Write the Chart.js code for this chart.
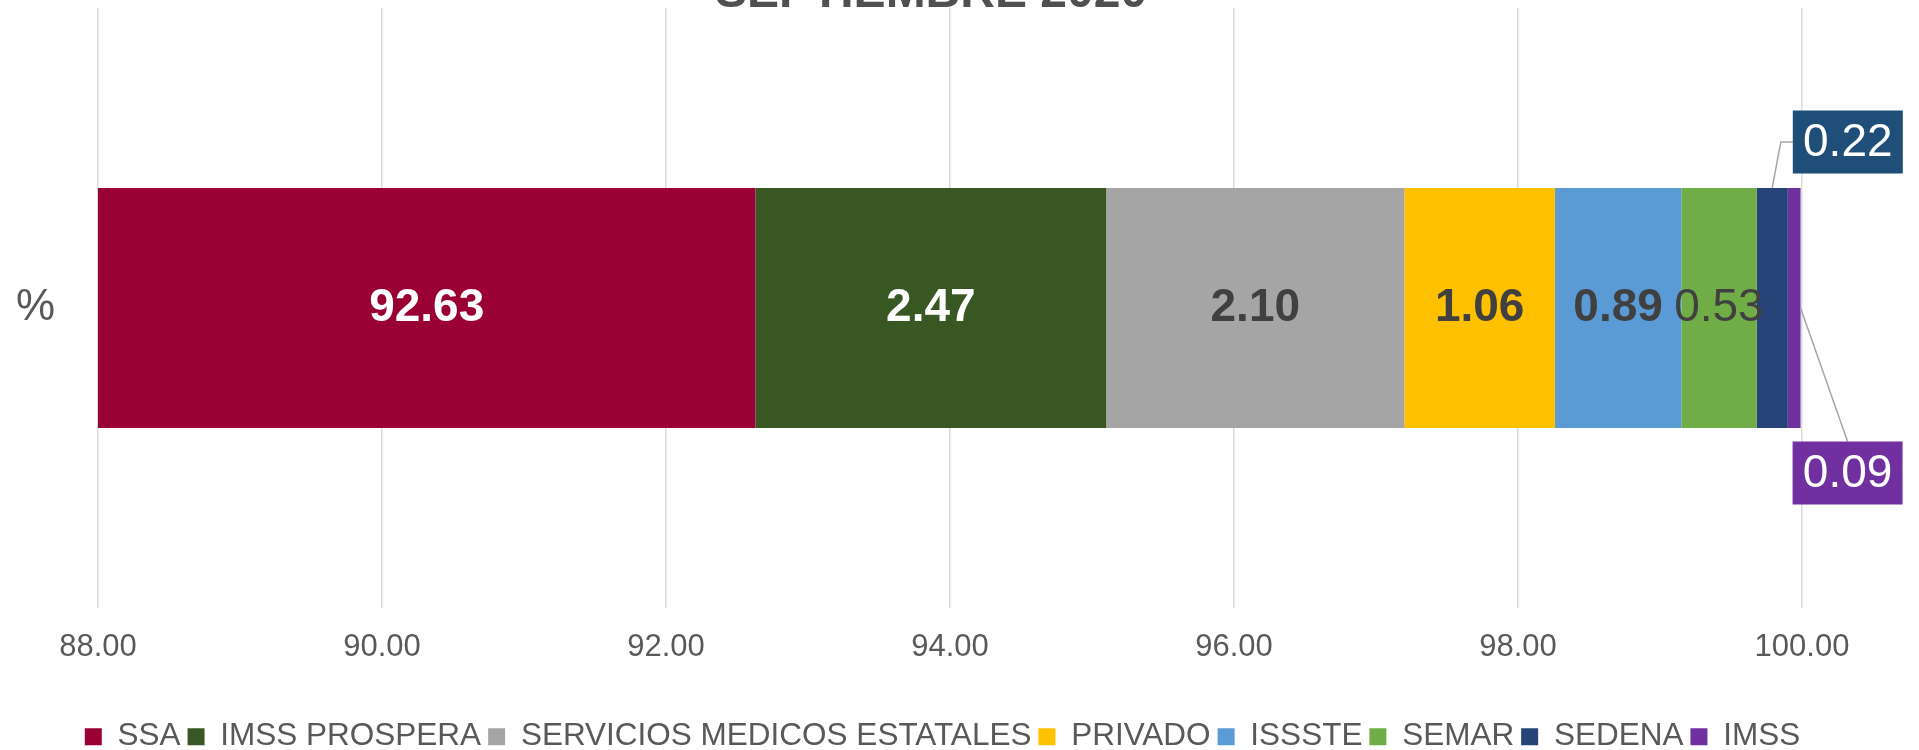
<!DOCTYPE html>
<html>
<head>
<meta charset="utf-8">
<script src="https://cdn.jsdelivr.net/npm/chart.js@4.4.0/dist/chart.umd.min.js"></script>
<style>
    html, body { margin: 0; padding: 0; background: #ffffff; }
    #wrap { width: 1919px; height: 750px; }
</style>
</head>
<body>
<div id="wrap"><canvas id="myChart" width="1919" height="750"></canvas></div>
<script>
var categories = ['%'];
var seriesNames = ['SSA', 'IMSS PROSPERA', 'SERVICIOS MEDICOS ESTATALES', 'PRIVADO', 'ISSSTE', 'SEMAR', 'SEDENA', 'IMSS'];
var seriesValues = [92.63, 2.47, 2.10, 1.06, 0.89, 0.53, 0.22, 0.09];
var tickValues = [88, 90, 92, 94, 96, 98, 100];
var titleText = 'SEPTIEMBRE 2020';

var FONT = 'Arial, "Liberation Sans", sans-serif';
var seriesColors = ['#990033', '#385723', '#A5A5A5', '#FFC000', '#5B9BD5', '#70AD47', '#264478', '#7030A0'];

// how each value label is drawn: inside its segment, or in a callout box
var labelStyles = [
    {font: 'bold 46px ' + FONT, color: '#ffffff'},
    {font: 'bold 46px ' + FONT, color: '#ffffff'},
    {font: 'bold 46px ' + FONT, color: '#404040'},
    {font: 'bold 46px ' + FONT, color: '#404040'},
    {font: 'bold 46px ' + FONT, color: '#404040'},
    {font: '46px ' + FONT, color: '#404040'},
    {font: '46px ' + FONT, color: '#ffffff', box: '#1F4E79', side: 'up', dx: 60, dy: -166},
    {font: '46px ' + FONT, color: '#ffffff', box: '#7030A0', side: 'down', dx: 47, dy: 165}
];

/**
 * Draws the value of every segment, with callouts for the thin ones
 */
var valueLabels = {
    id: 'valueLabels',
    afterDatasetsDraw: function (chart) {
        var ctx = chart.ctx;
        var area = chart.chartArea;
        ctx.save();
        chart.data.datasets.forEach(function (ds, i) {
            var el = chart.getDatasetMeta(i).data[0];
            var p = el.getProps(['x', 'y', 'base', 'height'], true);
            var left = Math.max(Math.min(p.base, p.x), area.left);
            var right = Math.max(p.base, p.x);
            var st = labelStyles[i];
            var text = seriesValues[i].toFixed(2);
            ctx.font = st.font;
            ctx.textAlign = 'center';
            ctx.textBaseline = 'middle';
            if (!st.box) {
                ctx.fillStyle = st.color;
                ctx.fillText(text, (left + right) / 2, p.y);
                return;
            }
            var w = 110, h = 63;
            var cx = right + st.dx, cy = p.y + st.dy;
            // leader line
            ctx.strokeStyle = '#A6A6A6';
            ctx.lineWidth = 1.5;
            ctx.beginPath();
            if (st.side === 'up') {
                ctx.moveTo(cx - w / 2, cy);
                ctx.lineTo(cx - w / 2 - 12, cy);
                ctx.lineTo((left + right) / 2, p.y - p.height / 2);
            } else {
                ctx.moveTo(right, p.y);
                ctx.lineTo(cx, cy - h / 2);
            }
            ctx.stroke();
            ctx.fillStyle = st.box;
            ctx.fillRect(cx - w / 2, cy - h / 2, w, h);
            ctx.fillStyle = st.color;
            ctx.fillText(text, cx, cy + 1);
        });
        ctx.restore();
    }
};

// title of the slide, cut by the top edge
var cutTitle = {
    id: 'cutTitle',
    afterDraw: function (chart) {
        var ctx = chart.ctx;
        ctx.save();
        ctx.font = 'bold 48px ' + FONT;
        ctx.fillStyle = '#505050';
        ctx.textAlign = 'center';
        ctx.textBaseline = 'alphabetic';
        ctx.fillText(titleText, 931, 7);
        ctx.restore();
    }
};

var datasets = seriesNames.map(function (name, i) {
    return {
        label: name,
        data: [seriesValues[i]],
        backgroundColor: seriesColors[i],
        borderWidth: 0,
        barPercentage: 0.4,
        categoryPercentage: 1.0,
        clip: 0
    };
});

var ctx = document.getElementById('myChart').getContext('2d');
var myChart = new Chart(ctx, {
    type: 'bar',
    data: {labels: categories, datasets: datasets},
    options: {
        indexAxis: 'y',
        responsive: false,
        animation: false,
        devicePixelRatio: 1,
        layout: {padding: {top: 8, right: 34, bottom: 0, left: 0}},
        scales: {
            x: {
                type: 'linear',
                stacked: true,
                min: 88,
                max: 100,
                afterBuildTicks: function (scale) {
                    scale.ticks = tickValues.map(function (v) { return {value: v}; });
                },
                afterFit: function (scale) { scale.height = 106; },
                grid: {color: '#D9D9D9', lineWidth: 1.5, drawTicks: false},
                border: {display: false},
                ticks: {
                    padding: 21,
                    color: '#595959',
                    font: {family: FONT, size: 31},
                    callback: function (v) { return Number(v).toFixed(2); }
                }
            },
            y: {
                stacked: true,
                afterFit: function (scale) {
                    scale.width = 98;
                    scale.paddingTop = 0;
                    scale.paddingBottom = 0;
                },
                grid: {display: false, drawTicks: false},
                border: {display: false},
                ticks: {padding: 43, color: '#595959', font: {family: FONT, size: 44}}
            },
            yPad: {
                type: 'category',
                position: 'right',
                afterFit: function (scale) { scale.width = 83; },
                grid: {display: false, drawTicks: false},
                border: {display: false},
                ticks: {display: false}
            }
        },
        plugins: {
            legend: {
                position: 'bottom',
                maxHeight: 36,
                labels: {
                    boxWidth: 17,
                    boxHeight: 17,
                    padding: 7,
                    color: '#595959',
                    font: {family: FONT, size: 31.5}
                }
            },
            tooltip: {enabled: false}
        }
    },
    plugins: [valueLabels, cutTitle]
});
</script>
</body>
</html>
